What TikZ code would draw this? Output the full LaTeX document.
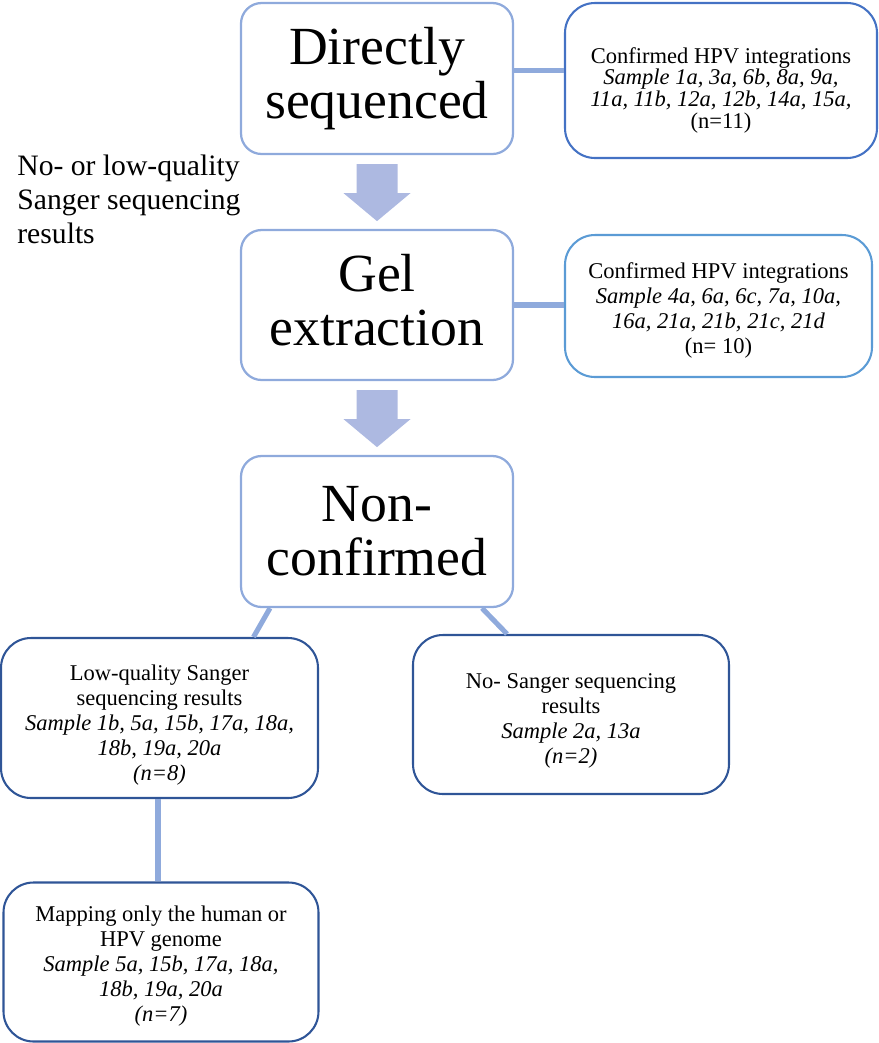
\documentclass[tikz,border=0pt]{standalone}
\usepackage{fontspec}
\setmainfont{Liberation Serif}
\usetikzlibrary{calc}
\definecolor{paleline}{RGB}{143,170,220}
\definecolor{arrowfill}{RGB}{173,185,225}
\definecolor{midblue}{RGB}{68,114,196}
\definecolor{skyblue}{RGB}{91,155,213}
\definecolor{deepblue}{RGB}{47,85,151}
\def\pxu{0.533pt}
\newcommand\toppad[1]{\rule{0pt}{#1}}
\newcommand\botpad[1]{\rule[-#1]{0pt}{#1}}
\newcommand\downblock[1]{%
  \fill[arrowfill, shift={(#1.south)}] (-20.5,9) -- (20.5,9) -- (20.5,38) -- (33.5,38)
    -- (0,66) -- (-33.5,38) -- (-20.5,38) -- cycle;}

\begin{document}
\begin{tikzpicture}[
  x=0.533pt, y=-0.533pt,
  stage/.style={draw=paleline, line width=1.2pt, rounded corners=11pt, inner sep=0pt,
    minimum width=272*\pxu, minimum height=151*\pxu, align=center,
    font=\fontsize{28.6}{28.8}\selectfont},
  note/.style={line width=1.1pt, rounded corners=16pt, inner sep=0pt, align=center,
    font=\fontsize{12}{13.3}\selectfont},
  link/.style={paleline, line width=2.7pt}
]
  \useasboundingbox (0,0) rectangle (879,1043);

  \node[stage] (ds)  at (377,78.5) {Directly\\sequenced};
  \node[stage, minimum height=150*\pxu] (gel) at (377,305) {Gel\\extraction\botpad{5.3pt}};
  \node[stage] (nc)  at (377,531.5) {Non-\\confirmed};

  \node[note, draw=midblue, minimum width=312*\pxu, minimum height=155*\pxu,
    font=\fontsize{12}{11.7}\selectfont] (conf1) at (721,80.5)
    {\toppad{19pt}Confirmed HPV integrations\\ \textit{Sample 1a, 3a, 6b, 8a, 9a,}\\
     \textit{11a, 11b, 12a, 12b, 14a, 15a,}\\ (n=11)};
  \node[note, draw=skyblue, minimum width=307*\pxu, minimum height=142*\pxu] (conf2) at (718.5,306)
    {\toppad{13pt}Confirmed HPV integrations\\ \textit{Sample 4a, 6a, 6c, 7a, 10a,}\\
     \textit{16a, 21a, 21b, 21c, 21d}\\ (n= 10)};

  \node[note, draw=deepblue, minimum width=317*\pxu, minimum height=160*\pxu] (lowq) at (159.5,718)
    {\toppad{15.7pt}Low-quality Sanger\\ sequencing results\\ \textit{Sample 1b, 5a, 15b, 17a, 18a,}\\
     \textit{18b, 19a, 20a}\\ \textit{(n=8)}};
  \node[note, draw=deepblue, minimum width=316*\pxu, minimum height=159*\pxu] (noseq) at (571,714.5)
    {\toppad{14.6pt}No- Sanger sequencing\\ results\\ \textit{Sample 2a, 13a}\\ \textit{(n=2)}};
  \node[note, draw=deepblue, minimum width=315*\pxu, minimum height=159*\pxu] (map) at (161,962)
    {\toppad{12.5pt}Mapping only the human or\\ HPV genome\\ \textit{Sample 5a, 15b, 17a, 18a,}\\
     \textit{18b, 19a, 20a}\\ \textit{(n=7)}};

  \node[anchor=north west, inner sep=0pt, align=left,
    font=\fontsize{15.8}{17.9}\selectfont] (why) at (17,155)
    {No- or low-quality\\ Sanger sequencing\\ results};

  % block arrows
  \downblock{ds}
  \downblock{gel}

  % side links
  \coordinate (ab) at ($(ds.east)+(0,-8)$);
  \draw[link] (ab) -- (ab -| conf1.west);
  \draw[link] (gel.east) -- (gel.east -| conf2.west);
  \draw[link] ([xshift=-107*\pxu]nc.south) -- ([xshift=94*\pxu]lowq.north);
  \draw[link] ([xshift=105*\pxu]nc.south) -- ([xshift=-64*\pxu]noseq.north);
  \draw[link] ([xshift=-1.5*\pxu]lowq.south) -- ([xshift=-1.5*\pxu]lowq.south |- map.north);
\end{tikzpicture}
\end{document}
